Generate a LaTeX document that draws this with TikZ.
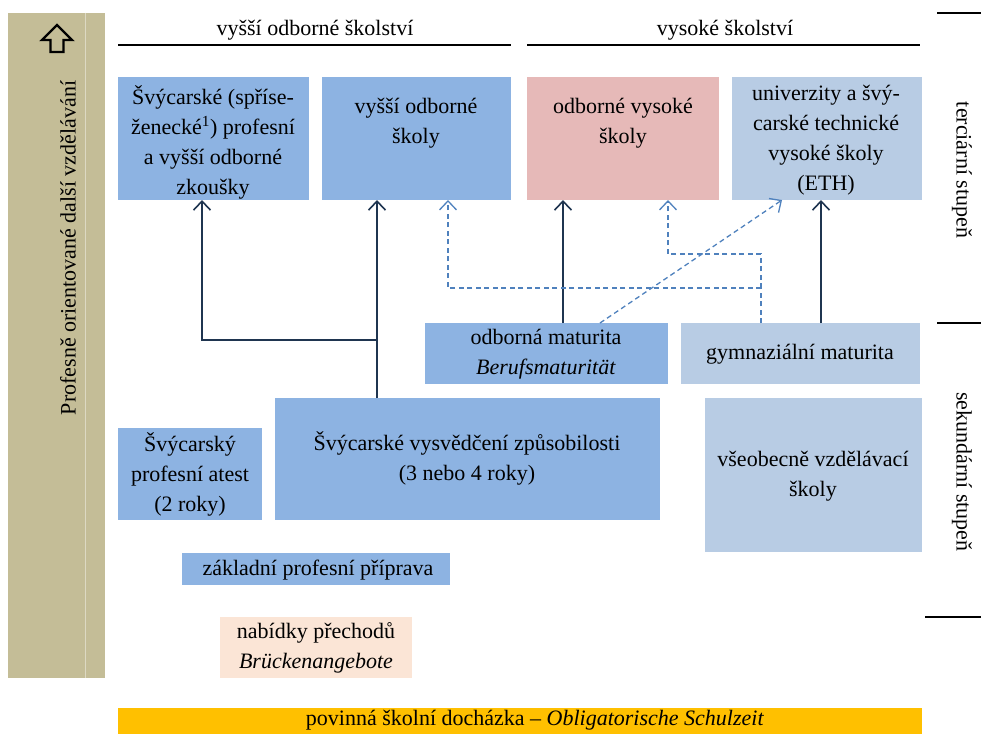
\documentclass[tikz,border=0pt]{standalone}
\usepackage{fontspec}
\setmainfont{Liberation Serif}
\usetikzlibrary{arrows.meta}
\definecolor{cblue}{HTML}{8DB3E2}
\definecolor{clblue}{HTML}{B8CCE4}
\definecolor{cpink}{HTML}{E6B9B8}
\definecolor{cpeach}{HTML}{FBE5D6}
\definecolor{cgold}{HTML}{FFC000}
\definecolor{cbeige}{HTML}{C4BD97}
\definecolor{cbeigel}{HTML}{DDD9C3}
\definecolor{cnavy}{HTML}{1F3550}
\definecolor{cdash}{HTML}{4F81BD}
\newcommand{\bx}[6]{\node[box, fill=#6, minimum width={#4-#2}, minimum height={#5-#3}] (#1) at (#2,#3) {};}
\begin{document}
\begin{tikzpicture}[x=1pt,y=-1pt,
 box/.style={anchor=north west, inner sep=0, outer sep=0, draw=none},
 txt/.style={align=center, font=\fontsize{22}{30}\selectfont, inner sep=0},
 arr/.style={draw=cnavy, line width=1.6pt, -{Straight Barb[length=9pt,width=17pt,line width=1.6pt]}},
 darr/.style={draw=cdash, line width=1.3pt, dash pattern=on 5pt off 3.5pt},
 darrh/.style={darr, -{Straight Barb[length=9pt,width=17pt,line width=1.3pt]}},
 hline/.style={draw=black, line width=1.4pt}]
\useasboundingbox (0,0) rectangle (981,733);
% left bar
\bx{bar}{8}{13}{105}{678}{cbeige}
\draw[cbeigel, line width=1pt] (85,13) -- (85,678);
\node[txt, rotate=90] (bart) at (68,248) {Profesně orientované další vzdělávání};
\draw[black, line width=2.4pt, line join=miter] (57,25) -- (72,40) -- (63.5,40) -- (63.5,52) -- (50.5,52) -- (50.5,40) -- (42,40) -- cycle;
% headers
\node[txt] (h1) at (315,30) {vyšší odborné školství};
\node[txt] (h2) at (725,30) {vysoké školství};
\draw[hline] (118,45) -- (511,45);
\draw[hline] (527,45) -- (920,45);
% right side
\draw[hline] (937,13) -- (981,13);
\draw[hline] (937,323) -- (981,323);
\draw[hline] (925,617) -- (981,617);
\node[txt, rotate=-90] (r1) at (962,170) {terciární stupeň};
\node[txt, rotate=-90] (r2) at (962,472) {sekundární stupeň};
% boxes
\bx{b1}{118}{77}{309}{200}{cblue}
\bx{b2}{322}{77}{511}{200}{cblue}
\bx{b3}{527}{77}{719}{200}{cpink}
\bx{b4}{732}{77}{922}{200}{clblue}
\bx{om}{425}{323}{668}{384}{cblue}
\bx{gm}{681}{323}{920}{384}{clblue}
\bx{at}{118}{428}{262}{520}{cblue}
\bx{vy}{275}{398}{660}{520}{cblue}
\bx{vs}{705}{398}{922}{552}{clblue}
\bx{zp}{182}{553}{450}{585}{cblue}
\bx{nb}{220}{617}{412}{678}{cpeach}
\bx{pd}{118}{708}{922}{745}{cgold}
% texts
\node[txt] (t1) at (213,142) {Švýcarské (spříse-\\ženecké\textsuperscript{1}) profesní\\a vyšší odborné\\zkoušky};
\node[txt] (t2) at (416,123) {vyšší odborné\\školy};
\node[txt] (t3) at (623,123) {odborné vysoké\\školy};
\node[txt] (t4) at (826,140) {univerzity a švý-\\carské technické\\vysoké školy\\(ETH)};
\node[txt] (t5) at (546,354) {odborná maturita\\\textit{Berufsmaturität}};
\node[txt] (t6) at (800,354) {gymnaziální maturita};
\node[txt] (t7) at (190,474) {Švýcarský\\profesní atest\\(2 roky)};
\node[txt] (t8) at (467,458) {Švýcarské vysvědčení způsobilosti\\(3 nebo 4 roky)};
\node[txt] (t9) at (813,476) {všeobecně vzdělávací\\školy};
\node[txt] (t10) at (318,570) {základní profesní příprava};
\node[txt] (t11) at (316,648) {nabídky přechodů\\\textit{Brückenangebote}};
\node[txt] (t12) at (535,720) {povinná školní docházka – \textit{Obligatorische Schulzeit}};
% coordinates
\coordinate (j1) at (377,340);
\coordinate (k1) at (202,340);
\coordinate (d1) at (761,288);
\coordinate (d2) at (448,288);
\coordinate (d3) at (761,254);
\coordinate (d4) at (668,254);
% solid arrows
\draw[arr] (vy.north -| j1) -- (b2.south -| j1);
\draw[arr] (j1) -- (k1) -- (b1.south -| k1);
\draw[arr] (om.north -| 563,0) -- (b3.south -| 563,0);
\draw[arr] (gm.north -| 821,0) -- (b4.south -| 821,0);
% dashed arrows
\draw[darr] (gm.north -| d1) -- (d1);
\draw[darrh] (d1) -- (d2) -- (b2.south -| d2);
\draw[darrh] (d1) -- (d3) -- (d4) -- (b3.south -| d4);
\draw[darrh] (om.north -| 600,0) -- (b4.south -| 782,0);
\end{tikzpicture}
\end{document}
